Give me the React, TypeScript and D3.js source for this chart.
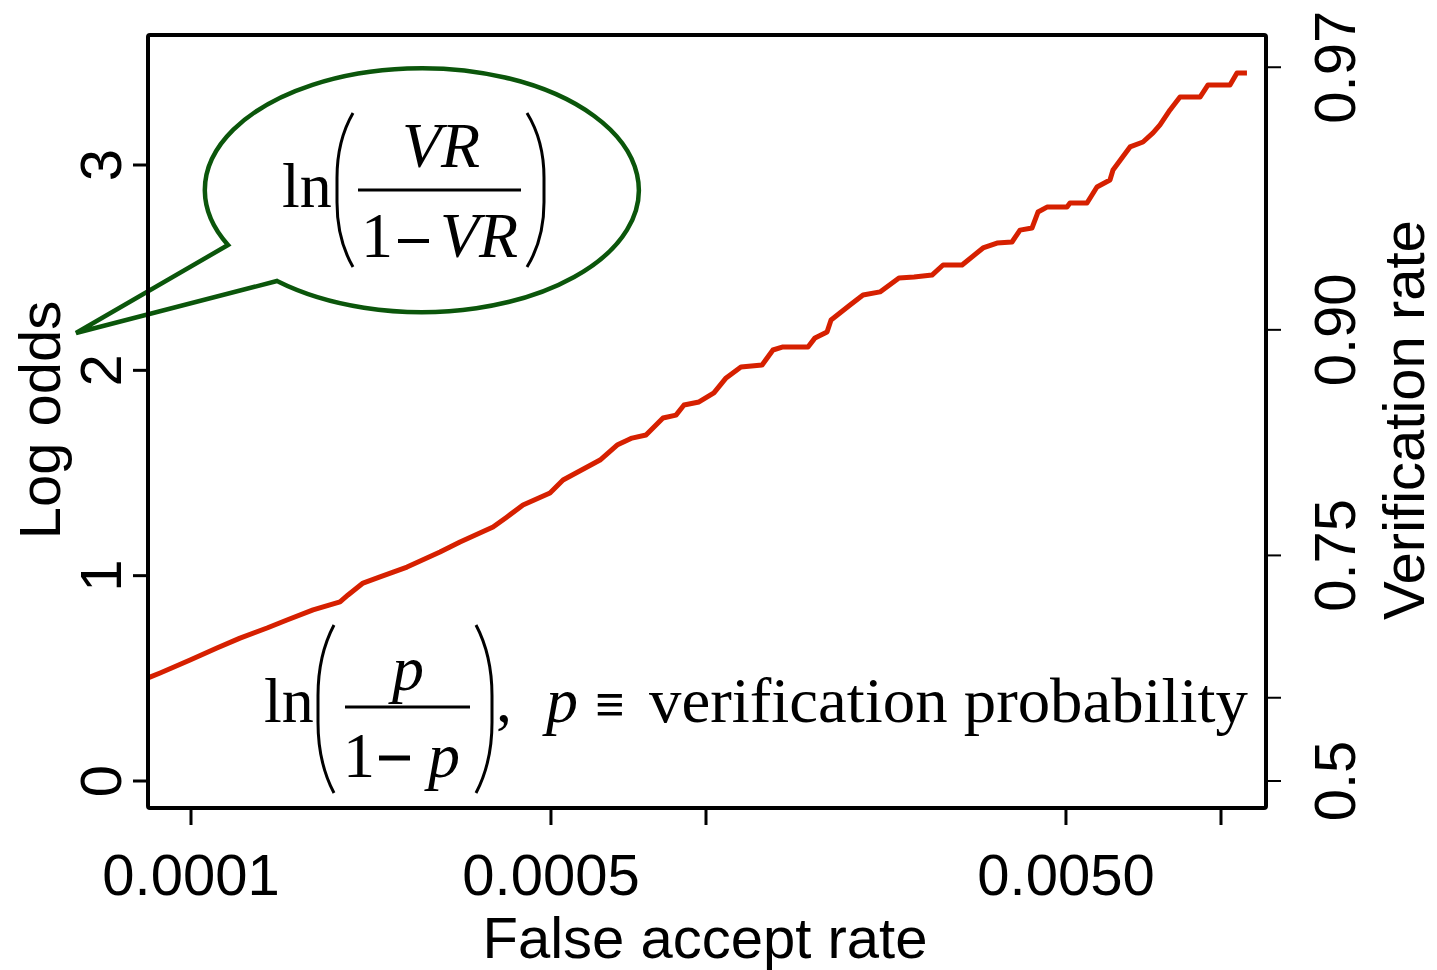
import React from 'react';
import * as d3 from 'd3';

// false accept rate (x) and log odds of verification (y)
const farValues = [
  0.0000825, 0.0000871, 0.0000996, 0.0001123, 0.0001245, 0.0001405, 0.0001536, 0.0001726,
  0.0001947, 0.0002018, 0.0002158, 0.0002328, 0.0002627, 0.0003044, 0.0003329, 0.0003859,
  0.0004108, 0.0004412, 0.0004978, 0.0005277, 0.0006227, 0.000672, 0.0007184, 0.0007647,
  0.0008251, 0.0008744, 0.0009063, 0.0009692, 0.001036, 0.001094, 0.001169, 0.001285,
  0.001349, 0.001411, 0.001578, 0.001628, 0.001718, 0.001749, 0.001904, 0.002018,
  0.002177, 0.00237, 0.002535, 0.002747, 0.002886, 0.003142, 0.003451, 0.003673,
  0.003928, 0.004071, 0.004295, 0.004412, 0.004593, 0.005023, 0.005091, 0.005493,
  0.005743, 0.006087, 0.00617, 0.006658, 0.007055, 0.007379, 0.007613, 0.007962,
  0.008325, 0.009105, 0.009436, 0.01041, 0.01074, 0.01123,
];
const logOdds = [
  0.502, 0.526, 0.589, 0.648, 0.696, 0.745, 0.784, 0.833,
  0.872, 0.906, 0.964, 0.994, 1.042, 1.115, 1.164, 1.237,
  1.286, 1.344, 1.403, 1.466, 1.563, 1.636, 1.670, 1.685,
  1.768, 1.782, 1.831, 1.846, 1.890, 1.963, 2.016, 2.026,
  2.099, 2.114, 2.114, 2.158, 2.187, 2.245, 2.318, 2.367,
  2.382, 2.450, 2.455, 2.464, 2.513, 2.513, 2.596, 2.620,
  2.625, 2.683, 2.693, 2.771, 2.795, 2.795, 2.815, 2.815,
  2.893, 2.927, 2.976, 3.088, 3.112, 3.156, 3.195, 3.268,
  3.331, 3.331, 3.390, 3.390, 3.448, 3.448,
];

const xTickValues = [0.0001, 0.0005, 0.001, 0.005, 0.01];
const xTickLabels = ['0.0001', '0.0005', '', '0.0050', ''];
const yTickValues = [0, 1, 2, 3];
const vrTickValues = [0.5, 0.6, 0.75, 0.9, 0.97];
const vrTickLabels = ['0.5', '', '0.75', '0.90', '0.97'];

const W = 1437;
const H = 970;
const frame = { left: 148, right: 1266, top: 35, bottom: 808 };
const sans = '"Liberation Sans", Arial, Helvetica, sans-serif';
const serif = '"Liberation Serif", "Times New Roman", serif';
const RED = '#d62000';
const GREEN = '#0b560b';

const xScale = d3.scaleLog().domain([0.0001, 0.01]).range([191, 1221]);
const yScale = d3.scaleLinear().domain([0, 3]).range([781, 165]);
const logit = (p: number) => Math.log(p / (1 - p));

const line = d3
  .line<number>()
  .x((_, i) => xScale(farValues[i]))
  .y((d) => yScale(d));

// tall thin parenthesis as a path
const paren = (x: number, y0: number, y1: number, w: number, left: boolean) => {
  const s = left ? -1 : 1;
  const xi = x + s * w;
  const h = y1 - y0;
  return `M${x},${y0} Q${xi},${y0 + h * 0.18} ${xi},${y0 + h * 0.42} L${xi},${y0 + h * 0.58} Q${xi},${y0 + h * 0.82} ${x},${y1}`;
};

const App: React.FC = () => {
  return (
    <svg width={W} height={H} style={{ position: 'absolute', left: 0, top: 0, background: '#fff' }}>
      {/* speech bubble */}
      <path
        d="M228,245 L76,333 L277,281 A217 122 0 1 0 228 245 Z"
        fill="none"
        stroke={GREEN}
        strokeWidth={4.5}
        strokeLinejoin="miter"
      />
      <g fontFamily={serif} fill="#000">
        <text x={282} y={207} fontSize={64}>ln</text>
        <text x={402} y={167} fontSize={64} fontStyle="italic">VR</text>
        <line x1={358} x2={521} y1={190} y2={190} stroke="#000" strokeWidth={3} />
        <text x={361} y={257} fontSize={64}>1</text>
        <line x1={398} x2={429} y1={241} y2={241} stroke="#000" strokeWidth={4} />
        <text x={440} y={257} fontSize={64} fontStyle="italic">VR</text>
      </g>
      <path d={paren(353, 113, 267, 16, true)} fill="none" stroke="#000" strokeWidth={3} />
      <path d={paren(527, 113, 267, 17, false)} fill="none" stroke="#000" strokeWidth={3} />

      {/* data line */}
      <path d={line(logOdds) ?? ''} fill="none" stroke={RED} strokeWidth={5} strokeLinejoin="round" />

      {/* bottom formula */}
      <g fontFamily={serif} fill="#000">
        <text x={264} y={722} fontSize={64}>ln</text>
        <text x={392} y={690} fontSize={64} fontStyle="italic">p</text>
        <line x1={345} x2={470} y1={707} y2={707} stroke="#000" strokeWidth={3} />
        <text x={343} y={777} fontSize={64}>1</text>
        <line x1={379} x2={410} y1={758} y2={758} stroke="#000" strokeWidth={5} />
        <text x={428} y={777} fontSize={64} fontStyle="italic">p</text>
        <text x={496} y={722} fontSize={64}>,</text>
        <text x={546} y={722} fontSize={64} fontStyle="italic">p</text>
        <text x={595} y={722} fontSize={52} fontWeight="bold">≡</text>
        <text x={649} y={722} fontSize={64} textLength={599} lengthAdjust="spacingAndGlyphs">verification probability</text>
      </g>
      <path d={paren(334, 625, 793, 16, true)} fill="none" stroke="#000" strokeWidth={3} />
      <path d={paren(476, 625, 793, 16, false)} fill="none" stroke="#000" strokeWidth={3} />

      {/* frame */}
      <rect
        x={frame.left}
        y={frame.top}
        width={frame.right - frame.left}
        height={frame.bottom - frame.top}
        fill="none"
        stroke="#000"
        strokeWidth={4}
        rx={2}
      />

      {/* left axis */}
      <g fontFamily={sans} fontSize={58} fill="#000">
        {yTickValues.map((v) => (
          <g key={`y${v}`}>
            <line x1={frame.left - 15} x2={frame.left} y1={yScale(v)} y2={yScale(v)} stroke="#000" strokeWidth={3} />
            <text transform={`translate(121,${yScale(v)}) rotate(-90)`} textAnchor="middle">{v}</text>
          </g>
        ))}
        <text transform={`translate(60,420) rotate(-90)`} textAnchor="middle">Log odds</text>
      </g>

      {/* right axis */}
      <g fontFamily={sans} fontSize={58} fill="#000">
        {vrTickValues.map((p, i) => (
          <g key={`r${p}`}>
            <line x1={frame.right} x2={frame.right + 15} y1={yScale(logit(p))} y2={yScale(logit(p))} stroke="#000" strokeWidth={2} />
            {vrTickLabels[i] && (
              <text transform={`translate(1355,${yScale(logit(p))}) rotate(-90)`} textAnchor="middle">{vrTickLabels[i]}</text>
            )}
          </g>
        ))}
        <text transform={`translate(1424,420) rotate(-90)`} textAnchor="middle">Verification rate</text>
      </g>

      {/* bottom axis */}
      <g fontFamily={sans} fontSize={58} fill="#000">
        {xTickValues.map((v, i) => (
          <g key={`x${v}`}>
            <line x1={xScale(v)} x2={xScale(v)} y1={frame.bottom} y2={frame.bottom + 17} stroke="#000" strokeWidth={3} />
            {xTickLabels[i] && (
              <text x={xScale(v)} y={895} textAnchor="middle">{xTickLabels[i]}</text>
            )}
          </g>
        ))}
        <text x={705} y={958} textAnchor="middle">False accept rate</text>
      </g>
    </svg>
  );
};

export default App;
